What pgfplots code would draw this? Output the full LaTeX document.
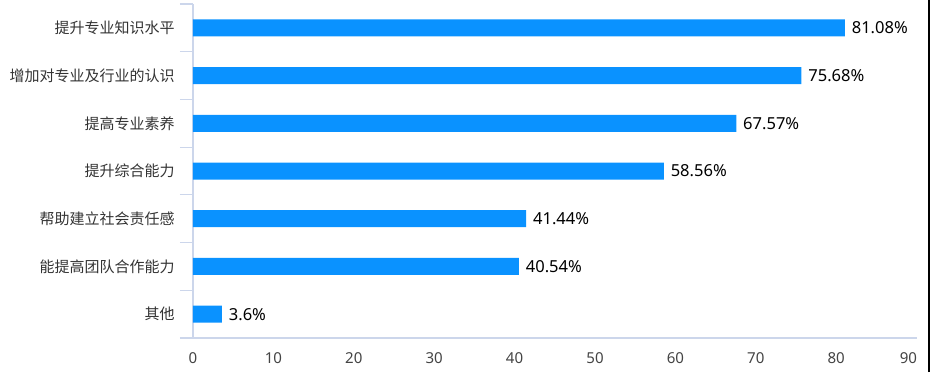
\documentclass[border=0pt]{standalone}
\usepackage{pgfplots}
\pgfplotsset{compat=1.18}
\usepackage{fontspec}
\setmainfont{Noto Sans}
\newfontfamily\cjk{Noto Sans CJK SC}
\definecolor{barblue}{RGB}{10,146,255}
\definecolor{axisline}{RGB}{204,214,235}
\definecolor{cattext}{RGB}{51,51,51}
\definecolor{ticktext}{RGB}{68,68,68}
\begin{document}
\begin{tikzpicture}
\begin{axis}[
  at={(144.75pt,25.5pt)}, anchor=south west,
  scale only axis,
  width=542.7pt, height=250.5pt,
  xmin=0, xmax=90,
  ymin=-0.5, ymax=6.5,
  y dir=reverse,
  xbar,
  bar width=12.75pt,
  bar shift=0pt,
  axis x line*=bottom,
  axis y line*=left,
  axis line style={axisline, line width=0.9pt},
  xtick={0,10,...,80},
  extra x ticks={90},
  extra x tick style={xticklabel style={anchor=north east, inner sep=0pt, xshift=0.5pt}},
  major x tick style={draw=none},
  xticklabel style={anchor=north, inner sep=0pt, yshift=-10.5pt, font=\fontsize{11.3pt}{13pt}\selectfont, text=ticktext},
  /pgf/number format/assume math mode=true,
  ytick={0,...,6},
  yticklabels={提升专业知识水平,增加对专业及行业的认识,提高专业素养,提升综合能力,帮助建立社会责任感,能提高团队合作能力,其他},
  yticklabel style={anchor=east, inner sep=0pt, xshift=-13.5pt, font=\cjk\fontsize{11.25pt}{13pt}\selectfont, text=cattext},
  major tick length=0pt,
  minor ytick={-0.5,0.5,...,6.5},
  minor tick length=9.75pt,
  tick align=outside,
  minor y tick style={axisline, line width=0.9pt},
  clip=false,
  nodes near coords,
  point meta=explicit symbolic,
  every node near coord/.append style={anchor=west, inner sep=0pt, xshift=5pt, font=\fontsize{12.4pt}{14pt}\selectfont, text=black},
]
\addplot[fill=barblue, draw=none] coordinates {
  (81.08,0) [81.08\%]
  (75.68,1) [75.68\%]
  (67.57,2) [67.57\%]
  (58.56,3) [58.56\%]
  (41.44,4) [41.44\%]
  (40.54,5) [40.54\%]
  (3.6,6) [3.6\%]
};
\end{axis}
\draw[black, line width=1.4pt] (697pt,0pt) -- (697pt,279pt);
\pgfresetboundingbox
\path[use as bounding box] (0,0) rectangle (699pt,279pt);
\end{tikzpicture}
\end{document}
